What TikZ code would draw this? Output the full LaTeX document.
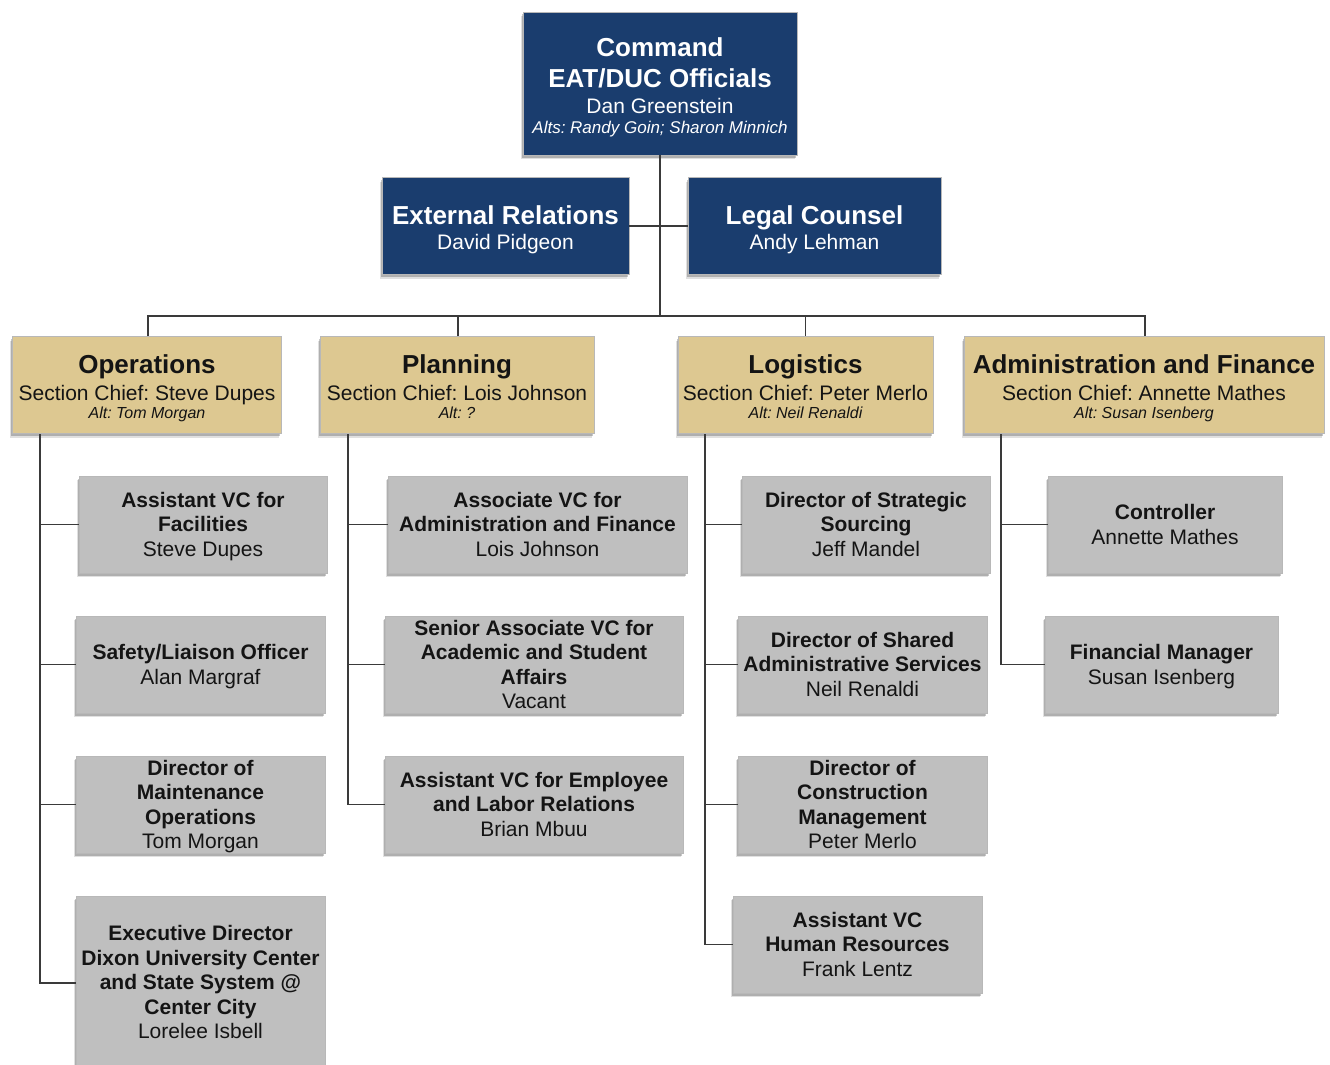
\documentclass[tikz,border=0pt]{standalone}
\usepackage{fontspec}
\setmainfont{Liberation Sans}
\usetikzlibrary{shadows}
\frenchspacing
\definecolor{navy}{HTML}{1A3D6E}
\definecolor{tanc}{HTML}{DDC891}
\definecolor{greyb}{HTML}{BFBFBF}
\definecolor{linec}{HTML}{3A3A3A}
\definecolor{txt}{HTML}{141414}
\newcommand\fTitle{\fontsize{26}{30}\selectfont\bfseries}
\newcommand\fSub{\fontsize{21}{24}\selectfont}
\newcommand\fAlt{\fontsize{16}{19}\selectfont\itshape}
\newcommand\fAltc{\fontsize{17}{20}\selectfont\itshape}
\newcommand\fGrey{\fontsize{21}{24.5}\selectfont}
\newcommand\mydesc{\vphantom{gy}}
\tikzset{
  shad/.style={drop shadow={shadow xshift=-2pt,shadow yshift=-4pt,opacity=.12,fill=black},
               drop shadow={shadow xshift=-1pt,shadow yshift=-2.5pt,opacity=.22,fill=black}},
  box/.style={rectangle, inner sep=0pt, draw=black!28, line width=.6pt, shad},
  bluebox/.style={box, fill=navy},
  tanbox/.style={box, fill=tanc, minimum height=97pt},
  greybox/.style={box, fill=greyb, minimum height=97pt},
  tline/.style={anchor=base, inner sep=0pt},
  wline/.style={tline, text=white},
  kline/.style={tline, text=txt},
  gtext/.style={inner sep=0pt, align=center, text=txt, font=\fGrey},
  conn/.style={draw=linec, line width=1.5pt},
}
\begin{document}
\begin{tikzpicture}[x=1pt,y=-1pt]
\useasboundingbox (0,0) rectangle (1330,1065);
\clip (0,0) rectangle (1330,1065);

% ---------- top level ----------
\node[bluebox, minimum width=274pt, minimum height=143pt] (cmd) at (660,83.5) {};
\node[wline, font=\fTitle] (cmd1) at (660,57) {Command};
\node[wline, font=\fTitle] (cmd2) at (660,87) {EAT/DUC Officials};
\node[wline, font=\fSub] (cmd3) at (660,113) {Dan Greenstein};
\node[wline, font=\fAltc] (cmd4) at (660,133) {Alts: Randy Goin; Sharon Minnich};

\node[bluebox, minimum width=247pt, minimum height=97pt] (ext) at (505.5,226) {};
\node[wline, font=\fTitle] (ext1) at (505.5,224) {External Relations};
\node[wline, font=\fSub] (ext2) at (505.5,249) {David Pidgeon};

\node[bluebox, minimum width=253pt, minimum height=97pt] (legal) at (814.5,226) {};
\node[wline, font=\fTitle] (legal1) at (814.5,224) {Legal Counsel};
\node[wline, font=\fSub] (legal2) at (814.5,249) {Andy Lehman};

% ---------- sections ----------
\node[tanbox, minimum width=269pt] (ops) at (146.5,385) {};
\node[kline, font=\fTitle] (ops1) at (147,373) {Operations};
\node[kline, font=\fSub] (ops2) at (147,400) {Section Chief: Steve Dupes};
\node[kline, font=\fAlt] (ops3) at (147,418) {Alt: Tom Morgan};

\node[tanbox, minimum width=274pt] (plan) at (457,385) {};
\node[kline, font=\fTitle] (plan1) at (457,373) {Planning};
\node[kline, font=\fSub] (plan2) at (457,400) {Section Chief: Lois Johnson};
\node[kline, font=\fAlt] (plan3) at (457,418) {Alt: ?};

\node[tanbox, minimum width=255pt] (log) at (805.5,385) {};
\node[kline, font=\fTitle] (log1) at (805.5,373) {Logistics};
\node[kline, font=\fSub] (log2) at (805.5,400) {Section Chief: Peter Merlo};
\node[kline, font=\fAlt] (log3) at (805.5,418) {Alt: Neil Renaldi};

\node[tanbox, minimum width=360pt] (adm) at (1144,385) {};
\node[kline, font=\fTitle] (adm1) at (1144,373) {Administration and Finance};
\node[kline, font=\fSub] (adm2) at (1144,400) {Section Chief: Annette Mathes};
\node[kline, font=\fAlt] (adm3) at (1144,418) {Alt: Susan Isenberg};

% ---------- operations column ----------
\node[greybox, minimum width=248pt] (o1) at (203,524.5) {};
\node[gtext] (o1t) at ([yshift=-2pt]o1.center) {\bfseries Assistant VC for\\\bfseries Facilities\\Steve Dupes\mydesc};
\node[greybox, minimum width=249pt] (o2) at (200.5,664.5) {};
\node[gtext] (o2t) at ([yshift=-2pt]o2.center) {\bfseries Safety/Liaison Officer\\Alan Margraf\mydesc};
\node[greybox, minimum width=249pt] (o3) at (200.5,804.5) {};
\node[gtext] (o3t) at ([yshift=-2pt]o3.center) {\bfseries Director of\\\bfseries Maintenance\\\bfseries Operations\\Tom Morgan\mydesc};
\node[greybox, minimum width=249pt, minimum height=180pt] (o4) at (200.5,986) {};
\node[gtext] (o4t) at ([yshift=1.5pt]o4.center) {\bfseries Executive Director\\\bfseries Dixon University Center\\\bfseries and State System @\\\bfseries Center City\\Lorelee Isbell\mydesc};

% ---------- planning column ----------
\node[greybox, minimum width=299pt] (p1) at (537.5,524.5) {};
\node[gtext] (p1t) at ([yshift=-2pt]p1.center) {\bfseries Associate VC for\\\bfseries Administration and Finance\\Lois Johnson\mydesc};
\node[greybox, minimum width=298pt] (p2) at (534,664.5) {};
\node[gtext] (p2t) at ([yshift=-2pt]p2.center) {\bfseries Senior Associate VC for\\\bfseries Academic and Student\\\bfseries Affairs\\Vacant\mydesc};
\node[greybox, minimum width=298pt] (p3) at (534,804.5) {};
\node[gtext] (p3t) at ([yshift=-2pt]p3.center) {\bfseries Assistant VC for Employee\\\bfseries and Labor Relations\\Brian Mbuu\mydesc};

% ---------- logistics column ----------
\node[greybox, minimum width=248pt] (l1) at (866,524.5) {};
\node[gtext] (l1t) at ([yshift=-2pt]l1.center) {\bfseries Director of Strategic\\\bfseries Sourcing\\Jeff Mandel\mydesc};
\node[greybox, minimum width=249pt] (l2) at (862.5,664.5) {};
\node[gtext] (l2t) at ([yshift=-2pt]l2.center) {\bfseries Director of Shared\\\bfseries Administrative Services\\Neil Renaldi\mydesc};
\node[greybox, minimum width=249pt] (l3) at (862.5,804.5) {};
\node[gtext] (l3t) at ([yshift=-2pt]l3.center) {\bfseries Director of\\\bfseries Construction\\\bfseries Management\\Peter Merlo\mydesc};
\node[greybox, minimum width=249pt] (l4) at (857.5,944.5) {};
\node[gtext] (l4t) at ([yshift=-2pt]l4.center) {\bfseries Assistant VC\\\bfseries Human Resources\\Frank Lentz\mydesc};

% ---------- admin column ----------
\node[greybox, minimum width=234pt] (a1) at (1165,524.5) {};
\node[gtext] (a1t) at ([yshift=-2pt]a1.center) {\bfseries Controller\\Annette Mathes\mydesc};
\node[greybox, minimum width=233pt] (a2) at (1161.5,664.5) {};
\node[gtext] (a2t) at ([yshift=-2pt]a2.center) {\bfseries Financial Manager\\Susan Isenberg\mydesc};

% ---------- connectors ----------
\coordinate (bus) at (660,316);
\coordinate (opsC) at (40,434);
\coordinate (planC) at (348,434);
\coordinate (logC) at (705,434);
\coordinate (admC) at (1001,434);
\draw[conn] (cmd.south) -- (bus);
\draw[conn] (ext.east) -- (legal.west);
\draw[conn] ([xshift=1.5pt]ops.north) |- (bus);
\draw[conn] ([xshift=1pt]plan.north) |- (bus);
\draw[conn] (log.north) |- (bus);
\draw[conn] ([xshift=1pt]adm.north) |- (bus);
\draw[conn] (opsC) |- (o1.west);
\draw[conn] (opsC) |- (o2.west);
\draw[conn] (opsC) |- (o3.west);
\draw[conn] (opsC) |- ([yshift=3pt]o4.west);
\draw[conn] (planC) |- (p1.west);
\draw[conn] (planC) |- (p2.west);
\draw[conn] (planC) |- (p3.west);
\draw[conn] (logC) |- (l1.west);
\draw[conn] (logC) |- (l2.west);
\draw[conn] (logC) |- (l3.west);
\draw[conn] (logC) |- (l4.west);
\draw[conn] (admC) |- (a1.west);
\draw[conn] (admC) |- (a2.west);
\end{tikzpicture}
\end{document}
